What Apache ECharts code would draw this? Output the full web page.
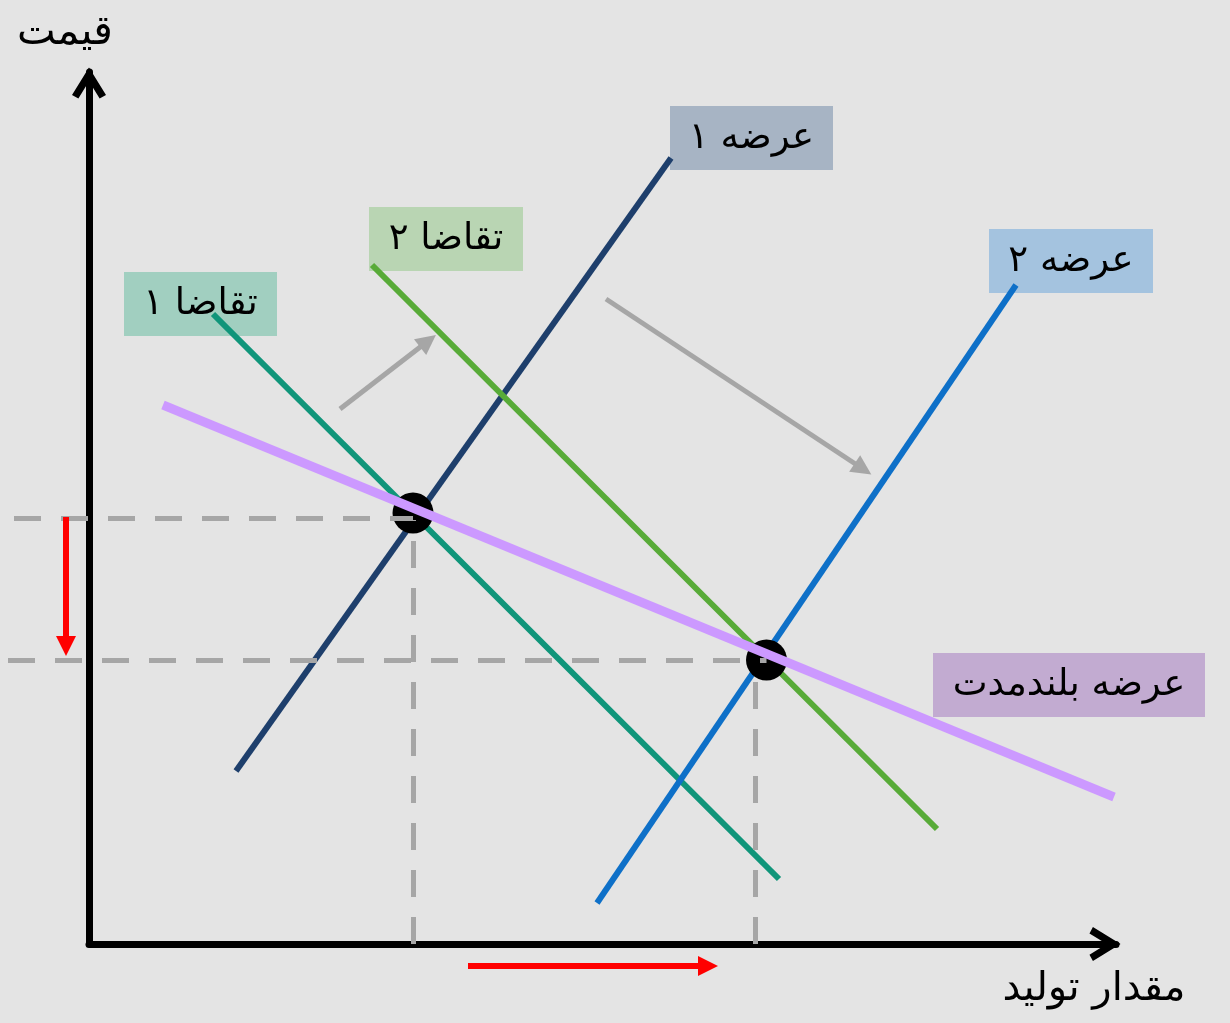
<!DOCTYPE html>
<html><head><meta charset="utf-8">
<script src="https://cdn.jsdelivr.net/npm/echarts@6/dist/echarts.min.js"></script>
<style>html,body{margin:0;padding:0;background:#e4e4e4}#c{width:1230px;height:1023px}</style>
</head><body><div id="c"></div>
<script>
// ---- data (quantity, price) ----
const supply1 = [[14.7, 17.3], [58.2, 78.6]];
const supply2 = [[50.8, 4.1], [92.7, 65.9]];
const demand1 = [[12.4, 63.0], [69.0, 6.5]];
const demand2 = [[28.3, 67.9], [84.8, 11.5]];
const longRunSupply = [[7.4, 53.9], [102.5, 14.7]];
const equilibria = [[32.4, 43.1], [67.75, 28.4]];
const priceGuides = [[[-7.5, 42.6], [32.4, 42.6]], [[-8.1, 28.4], [67.75, 28.4]]];
const quantityGuides = [[[32.4, 0], [32.4, 42.4]], [[66.6, 0], [66.6, 27.5]]];
const shiftArrows = [[[25.1, 53.5], [33.9, 60.3]], [[51.7, 64.5], [77.4, 47.5]]];
const changeArrows = [[[-2.3, 42.7], [-2.3, 29.8]], [[37.9, -2.2], [61.9, -2.2]]];
const curveLabels = ['عرضه ۱', 'تقاضا ۲', 'تقاضا ۱', 'عرضه ۲', 'عرضه بلندمدت'];
const curveLabelAnchors = [[66.25, 80.6], [35.7, 70.5], [11.15, 64.0], [98.2, 68.3], [98.0, 25.9]];
const axisTitles = ['قیمت', 'مقدار تولید'];

// ---- styles ----
const FONT = 'DejaVu Sans';
const boxSizes = [[163, 64], [154, 64], [153, 64], [164, 64], [272, 64]];
const boxColors = ['#a7b4c4', '#b9d5b3', '#a1cfc0', '#a4c3df', '#c2abd1'];
const chevron = 'path://M16,0L32,26L26,29.25L16,13L6,29.25L0,26Z';

function axisCfg(max) {
  return {
    type: 'value', min: 0, max: max,
    axisLine: {
      show: true, onZero: false,
      symbol: ['none', chevron], symbolSize: [34, 32], symbolOffset: [0, -11],
      lineStyle: { color: '#000', width: 7 }
    },
    axisTick: { show: false }, axisLabel: { show: false }, splitLine: { show: false }
  };
}
function curve(data, color, width, z) {
  return { type: 'line', data: data, symbol: 'none', silent: true, clip: false, z: z,
    lineStyle: { color: color, width: width, cap: 'butt' } };
}
function segs(list, color, width, extra, z) {
  return Object.assign({ type: 'lines', coordinateSystem: 'cartesian2d', silent: true, clip: false, z: z,
    data: list.map(c => ({ coords: c })),
    lineStyle: Object.assign({ color: color, width: width, opacity: 1, curveness: 0 }, extra.lineStyle || {}) },
    extra.opts || {});
}

const chart = echarts.init(document.getElementById('c'));
chart.setOption({
  backgroundColor: '#e4e4e4',
  animation: false,
  grid: { left: 89, right: 114, top: 72, bottom: 79 },
  xAxis: axisCfg(102.7),
  yAxis: axisCfg(87.2),
  series: [
    { type: 'scatter', silent: true, clip: false, z: 1, symbol: 'rect',
      data: curveLabels.map((t, i) => ({ value: curveLabelAnchors[i], name: t, symbolSize: boxSizes[i],
        itemStyle: { color: boxColors[i], opacity: 1 } })),
      label: { show: true, position: 'inside', formatter: p => p.name, color: '#000',
        fontSize: 37, fontFamily: FONT } },
    curve(supply1, '#1e3f6c', 6, 2),
    curve(demand1, '#10957a', 6, 2),
    curve(demand2, '#58ab38', 6, 2),
    curve(supply2, '#0e70c8', 6, 2),
    { type: 'scatter', silent: true, clip: false, z: 3, symbolSize: 41,
      itemStyle: { color: '#000', opacity: 1 }, data: equilibria },
    segs(priceGuides.concat(quantityGuides), '#a6a6a6', 5, { lineStyle: { type: [27, 20] }, opts: { symbol: 'none' } }, 4),
    curve(longRunSupply, '#cc99ff', 9, 5),
    segs(shiftArrows, '#a6a6a6', 5, { opts: { symbol: ['none', 'triangle'], symbolSize: 20 } }, 5),
    segs(changeArrows, '#ff0000', 6, { opts: { symbol: ['none', 'triangle'], symbolSize: 20 } }, 5)
  ],
  graphic: [
    { type: 'text', x: 65, y: 33, silent: true,
      style: { text: axisTitles[0], fontSize: 41, fontFamily: FONT, fill: '#000', align: 'center', verticalAlign: 'middle' } },
    { type: 'text', x: 1094, y: 990, silent: true,
      style: { text: axisTitles[1], fontSize: 40, fontFamily: FONT, fill: '#000', align: 'center', verticalAlign: 'middle' } }
  ]
});
</script>
</body></html>
